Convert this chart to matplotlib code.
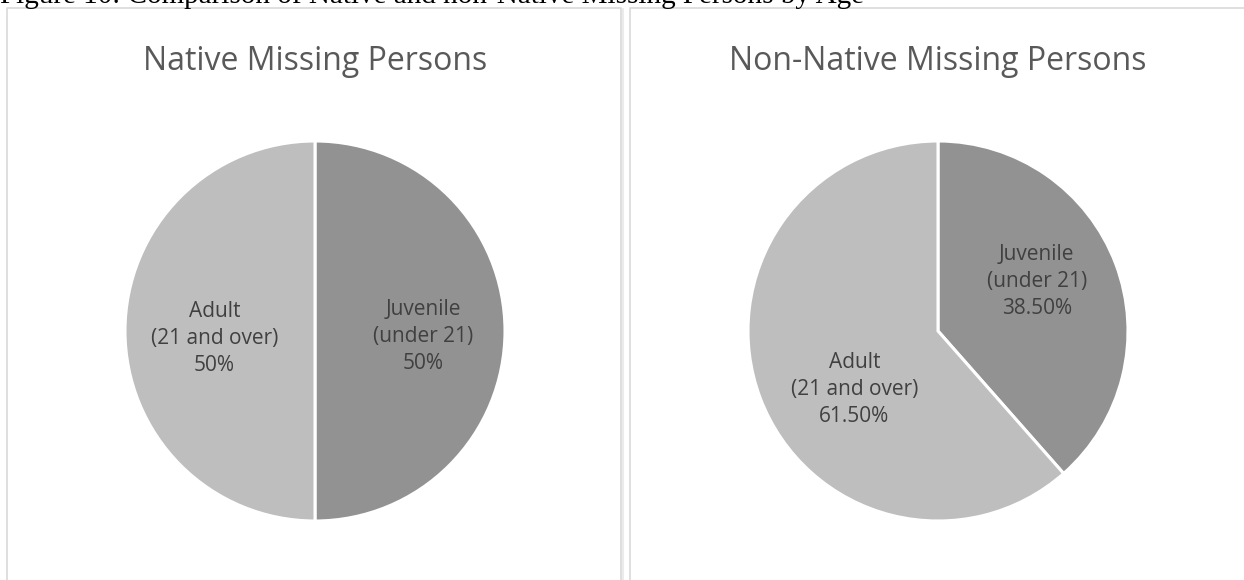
import matplotlib
matplotlib.use("Agg")
import matplotlib.pyplot as plt
from matplotlib.lines import Line2D

# --- data ---
categories = ["Juvenile\n(under 21)", "Adult\n(21 and over)"]
native_share = [50.0, 50.0]
native_pct = ["50%", "50%"]
non_native_share = [38.5, 61.5]
non_native_pct = ["38.50%", "61.50%"]
panel_titles = ["Native Missing Persons", "Non-Native Missing Persons"]
caption = "Figure 10: Comparison of Native and non-Native Missing Persons by Age"

colors = ["#929292", "#bebebe"]

W, H = 1244, 580
fig = plt.figure(figsize=(W / 100, H / 100), dpi=100)
fig.patch.set_facecolor("white")


def px_line(xs, ys, **kw):
    # figure-pixel helper for the panel frames (y measured from the top)
    fig.add_artist(Line2D([x / W for x in xs], [1 - y / H for y in ys],
                          transform=fig.transFigure, color="#d9d9d9", lw=1.2, **kw))


# panel frames
px_line([7, 7, 621, 621], [580, 8, 8, 580])
px_line([623, 623], [9, 580], alpha=0.6)
px_line([630, 630, 1244], [580, 8, 8])

# caption cut off at the top of the crop
fig.text(0, 1 - 3 / H, caption, ha="left", va="baseline",
         fontsize=21, family="Liberation Serif", color="black")


def draw_pie(cx, title, shares, pcts, label_pos):
    r = 190
    cy = 331
    ax = fig.add_axes([(cx - r) / W, (H - cy - r) / H, 2 * r / W, 2 * r / H])
    labels = [f"{c}\n{p}" for c, p in zip(categories, pcts)]
    wedges, texts = ax.pie(shares, labels=labels, colors=colors, startangle=90,
                           counterclock=False, labeldistance=0.56,
                           wedgeprops=dict(edgecolor="white", linewidth=2.2),
                           textprops=dict(color="#404040", fontsize=15,
                                          family="Open Sans", linespacing=1.38))
    for t, pos in zip(texts, label_pos):
        t.set_ha("center")
        t.set_va("center")
        t.set_position(pos)
    ax.set_xlim(-1, 1)
    ax.set_ylim(-1, 1)
    fig.text(cx / W, 1 - 70 / H, title, ha="center", va="baseline",
             fontsize=23, family="Open Sans", color="#595959")


draw_pie(315, panel_titles[0], native_share, native_pct,
         [(0.57, -0.03), (-0.53, -0.04)])
draw_pie(938, panel_titles[1], non_native_share, non_native_pct,
         [(0.52, 0.26), (-0.44, -0.31)])

fig.savefig("out.png", dpi=100)
